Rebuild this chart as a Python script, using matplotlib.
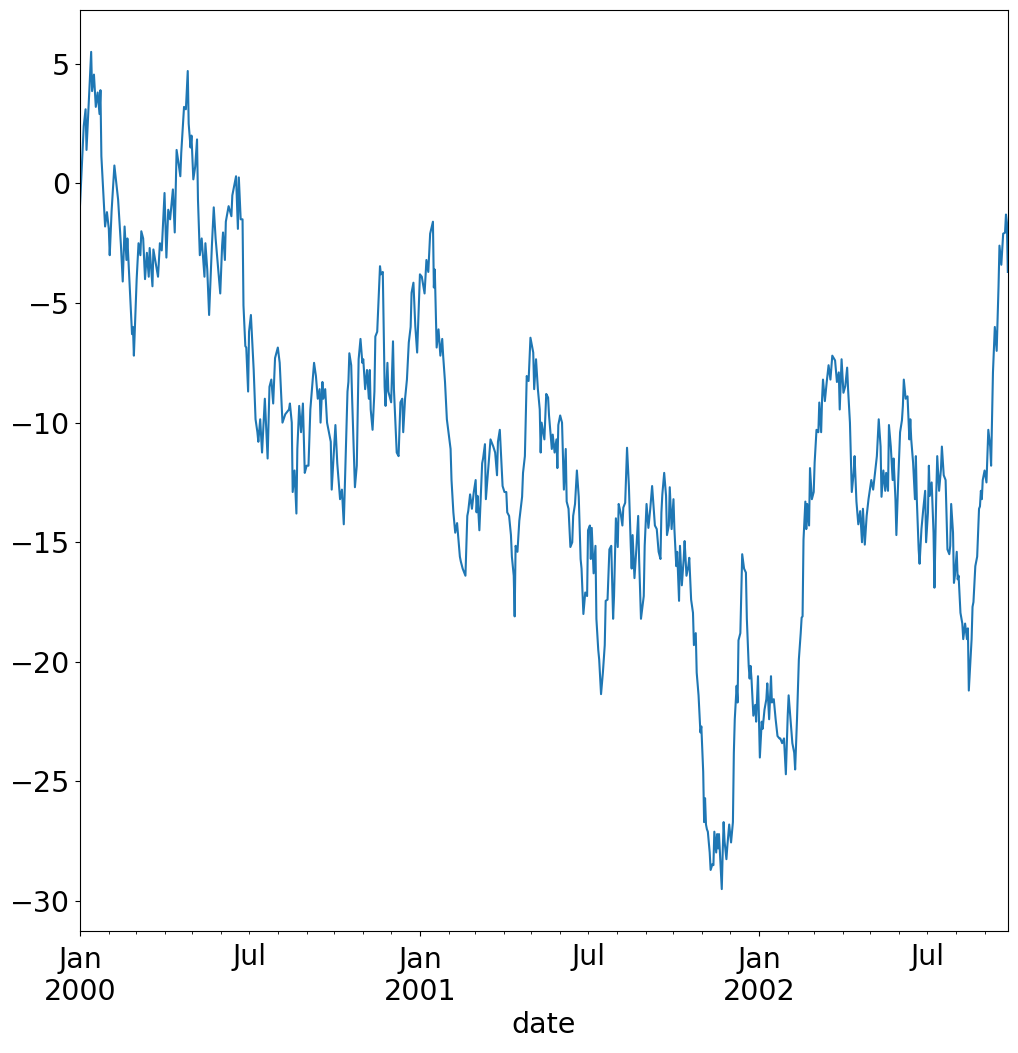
import matplotlib
matplotlib.use("Agg")
import matplotlib.pyplot as plt
import matplotlib.dates as mdates
from matplotlib.ticker import FuncFormatter
import pandas as pd

start_date = "2000-01-01"

# day offsets from start_date (rows align with rows of `values`)
days = [
    0, 4, 6, 7, 12, 13, 15, 17, 19, 21,
    22, 23, 27, 29, 31, 32, 34, 37, 41, 44,
    46, 48, 50, 51, 55, 56, 57, 58, 60, 61,
    63, 65, 66, 68, 70, 72, 74, 75, 78, 79,
    84, 86, 88, 91, 93, 95, 97, 100, 102, 104,
    106, 108, 109, 112, 114, 116, 117, 119, 120, 122,
    124, 126, 127, 129, 131, 134, 135, 137, 139, 142,
    144, 146, 149, 151, 153, 154, 156, 157, 160, 163,
    164, 168, 170, 171, 173, 175, 176, 178, 179, 181,
    182, 184, 187, 189, 191, 192, 194, 196, 199, 201,
    202, 204, 206, 208, 210, 213, 215, 218, 221, 225,
    226, 228, 229, 231, 233, 234, 236, 238, 240, 242,
    244, 246, 248, 252, 254, 256, 258, 259, 261, 262,
    264, 266, 270, 271, 275, 277, 280, 282, 284, 286,
    288, 289, 290, 292, 293, 296, 298, 300, 302, 304,
    305, 307, 309, 311, 312, 313, 315, 317, 318, 320,
    323, 324, 326, 328, 329, 331, 332, 335, 337, 338,
    341, 343, 345, 347, 348, 350, 352, 354, 356, 357,
    359, 361, 363, 366, 368, 371, 373, 375, 377, 380,
    381, 382, 384, 386, 388, 390, 391, 393, 395, 399,
    400, 402, 404, 406, 408, 409, 410, 412, 415, 417,
    418, 420, 422, 424, 426, 427, 428, 430, 433, 434,
    436, 437, 440, 442, 445, 447, 449, 450, 452, 453,
    455, 457, 459, 460, 462, 464, 465, 467, 468, 469,
    471, 473, 476, 477, 479, 481, 483, 485, 488, 489,
    491, 493, 495, 496, 497, 500, 502, 504, 505, 508,
    509, 511, 513, 514, 515, 517, 519, 521, 523, 524,
    526, 528, 530, 531, 533, 535, 537, 539, 540, 542,
    544, 546, 547, 549, 550, 551, 553, 555, 556, 558,
    559, 561, 563, 565, 566, 568, 570, 572, 574, 575,
    577, 579, 580, 582, 584, 585, 587, 589, 591, 593,
    594, 595, 597, 599, 601, 602, 604, 607, 608, 610,
    612, 614, 616, 617, 619, 621, 623, 625, 626, 627,
    629, 631, 632, 634, 635, 637, 639, 640, 642, 643,
    645, 646, 648, 650, 651, 653, 655, 656, 658, 660,
    661, 663, 664, 666, 668, 669, 671, 672, 673, 674,
    675, 676, 678, 679, 681, 682, 683, 685, 686, 687,
    688, 691, 692, 693, 694, 696, 697, 699, 701, 703,
    704, 705, 707, 708, 709, 711, 713, 715, 717, 718,
    720, 721, 722, 723, 725, 727, 728, 730, 732, 734,
    735, 737, 739, 740, 742, 744, 745, 747, 749, 751,
    753, 754, 756, 758, 760, 762, 763, 765, 767, 769,
    770, 772, 774, 776, 777, 778, 779, 781, 782, 783,
    785, 786, 788, 790, 791, 793, 795, 796, 798, 799,
    800, 802, 804, 806, 808, 810, 813, 815, 817, 818,
    820, 822, 824, 826, 827, 829, 831, 833, 834, 836,
    838, 840, 842, 843, 845, 847, 849, 851, 852, 854,
    856, 858, 860, 862, 863, 865, 867, 868, 870, 871,
    873, 875, 876, 878, 879, 881, 883, 885, 886, 887,
    889, 891, 893, 894, 895, 897, 899, 900, 901, 903,
    904, 906, 908, 910, 911, 913, 914, 915, 917, 919,
    920, 922, 923, 925, 927, 928, 930, 932, 934, 936,
    937, 938, 940, 941, 942, 944, 945, 946, 948, 950,
    951, 953, 955, 956, 957, 959, 960, 961, 962, 964,
    966, 968, 969, 970, 971, 972, 974, 976, 978, 980,
    981, 983, 985, 987, 989, 990, 992, 994, 996, 997,
    998, 999,
]

values = [
    -0.9, 2.4, 3.1, 1.4, 5.5, 3.86, 4.55, 3.2, 3.8, 2.9,
    3.9, 1.14, -1.8, -1.2, -1.9, -3.0, -1.16, 0.75, -0.67, -2.55,
    -4.1, -1.8, -3.2, -2.3, -5.5, -6.3, -6.0, -7.2, -5.0, -4.0,
    -2.5, -3.0, -2.0, -2.3, -4.0, -2.9, -3.9, -2.7, -4.3, -2.76,
    -3.9, -2.5, -2.8, -0.4, -3.1, -1.1, -1.5, -0.25, -2.05, 1.4,
    0.87, 0.3, 1.28, 3.2, 3.1, 4.7, 2.5, 1.5, 2.0, 0.17,
    0.7, 1.84, -0.67, -3.0, -2.3, -3.9, -2.5, -3.6, -5.5, -2.6,
    -1.0, -2.3, -3.7, -4.6, -2.6, -2.05, -3.2, -1.6, -0.95, -1.37,
    -0.5, 0.3, -1.9, 0.25, -1.5, -1.5, -5.1, -6.8, -6.86, -8.7,
    -6.2, -5.5, -7.8, -9.86, -10.4, -10.8, -9.86, -11.25, -9.0, -10.7,
    -11.5, -8.5, -8.2, -9.2, -7.3, -6.86, -7.5, -10.0, -9.65, -9.45,
    -9.2, -10.0, -12.9, -12.0, -13.8, -11.1, -9.3, -10.4, -9.2, -12.1,
    -11.8, -11.8, -9.45, -7.5, -8.05, -9.0, -8.6, -10.0, -8.3, -9.0,
    -8.6, -10.0, -10.8, -12.8, -10.1, -11.7, -13.2, -12.8, -14.25, -11.5,
    -8.7, -8.3, -7.1, -7.6, -9.0, -12.7, -11.8, -7.35, -6.5, -7.5,
    -7.35, -8.6, -7.8, -9.0, -7.8, -9.45, -10.3, -8.7, -6.4, -6.2,
    -3.46, -3.8, -3.7, -8.5, -9.3, -7.5, -8.7, -9.15, -6.6, -8.6,
    -11.25, -11.4, -9.15, -9.0, -10.4, -9.0, -8.2, -6.65, -6.0, -4.57,
    -4.15, -5.96, -7.07, -3.8, -3.9, -4.6, -3.2, -3.7, -2.1, -1.6,
    -4.35, -3.6, -6.86, -6.1, -7.2, -6.5, -7.2, -8.3, -9.86, -11.1,
    -12.4, -13.75, -14.6, -14.2, -15.15, -15.6, -15.8, -16.1, -16.4, -13.9,
    -13.7, -13.0, -13.6, -12.9, -12.4, -13.75, -13.06, -14.5, -11.7, -11.5,
    -10.9, -13.2, -11.7, -10.7, -11.0, -11.25, -12.2, -10.8, -10.3, -11.1,
    -12.65, -12.9, -12.9, -13.75, -13.9, -14.7, -15.6, -16.4, -18.1, -15.15,
    -15.4, -14.1, -13.1, -12.1, -11.4, -8.05, -8.26, -6.45, -7.07, -8.6,
    -7.35, -8.6, -9.45, -11.25, -10.0, -10.7, -8.8, -8.95, -9.7, -11.1,
    -10.5, -11.25, -10.7, -11.9, -10.1, -9.7, -10.0, -12.8, -11.1, -13.3,
    -13.6, -15.2, -15.0, -13.9, -13.4, -12.0, -13.1, -15.7, -16.1, -18.0,
    -17.1, -17.25, -14.5, -14.3, -15.7, -14.4, -16.3, -15.15, -18.2, -19.5,
    -19.9, -21.35, -20.45, -19.3, -17.45, -17.4, -15.3, -15.15, -18.2, -17.25,
    -14.0, -15.2, -13.4, -13.76, -14.3, -13.55, -13.35, -11.05, -12.65, -15.15,
    -16.1, -14.7, -16.5, -15.3, -13.9, -15.7, -18.2, -17.25, -15.15, -13.4,
    -14.4, -13.6, -12.65, -13.2, -14.3, -14.45, -15.4, -15.7, -13.76, -13.0,
    -12.1, -13.06, -14.7, -14.3, -12.7, -14.45, -13.2, -14.45, -16.0, -15.4,
    -17.45, -15.15, -16.8, -15.7, -14.95, -16.4, -16.0, -15.65, -17.4, -17.95,
    -19.3, -18.8, -20.45, -21.4, -22.95, -22.7, -24.6, -26.7, -25.7, -26.8,
    -27.0, -27.1, -27.97, -28.7, -28.45, -28.5, -27.1, -27.97, -27.2, -27.8,
    -27.2, -29.5, -27.97, -26.7, -27.5, -28.25, -27.7, -26.8, -27.55, -26.7,
    -23.8, -22.4, -21.0, -21.7, -19.1, -18.8, -15.5, -16.1, -16.27, -18.2,
    -20.17, -20.7, -20.17, -20.7, -22.25, -21.8, -22.5, -20.6, -24.0, -22.5,
    -22.8, -22.0, -21.56, -20.9, -22.4, -20.6, -21.7, -21.56, -22.4, -23.1,
    -23.2, -23.2, -23.4, -23.2, -24.7, -22.25, -21.4, -22.4, -23.4, -23.8,
    -24.5, -22.4, -19.9, -18.8, -18.15, -18.1, -14.9, -13.3, -14.45, -13.4,
    -14.3, -11.9, -13.2, -12.9, -11.67, -10.3, -10.4, -9.16, -10.4, -9.0,
    -8.2, -9.1, -8.3, -7.6, -8.2, -7.2, -7.4, -8.3, -7.9, -9.45,
    -7.35, -8.75, -8.47, -7.7, -8.6, -10.0, -12.9, -12.1, -11.4, -13.3,
    -14.25, -13.7, -15.0, -13.6, -15.1, -13.9, -13.2, -12.65, -12.4, -12.8,
    -12.1, -11.4, -9.86, -11.0, -13.1, -12.0, -12.85, -12.1, -12.85, -10.1,
    -11.0, -12.4, -11.5, -13.2, -14.7, -12.4, -10.4, -9.9, -9.3, -8.2,
    -9.0, -8.9, -10.7, -9.86, -10.7, -11.67, -13.2, -11.4, -13.2, -15.3,
    -15.9, -14.45, -13.6, -12.85, -15.0, -13.76, -11.8, -13.06, -12.5, -14.6,
    -16.9, -12.9, -11.4, -12.85, -11.95, -11.0, -12.2, -12.4, -15.3, -15.5,
    -15.15, -13.4, -14.6, -16.7, -16.4, -15.4, -16.55, -16.4, -17.95, -18.4,
    -19.05, -18.4, -19.05, -18.6, -21.2, -19.75, -19.05, -17.7, -17.5, -16.0,
    -15.6, -13.6, -13.5, -12.85, -13.2, -12.4, -12.0, -12.5, -10.3, -11.0,
    -11.8, -7.9, -6.0, -7.0, -4.3, -2.6, -3.4, -2.1, -2.06, -1.3,
    -1.64, -3.7,
]

assert len(days) == len(values)

x_label = "date"

dates = pd.Timestamp(start_date) + pd.to_timedelta(days, unit="D")

fig = plt.figure(figsize=(10.18, 10.53), dpi=100)
ax = fig.add_axes([0.0786, 0.1159, 0.9114, 0.8746])
ax.plot(dates, values, color="#1f77b4", linewidth=1.5)
ax.set_xlim(dates[0], dates[-1])

ax.xaxis.set_major_locator(mdates.MonthLocator(bymonth=1))
ax.xaxis.set_minor_locator(mdates.MonthLocator())


def major_fmt(x, pos=None):
    d = mdates.num2date(x)
    return d.strftime("%b") + "\n" + d.strftime("%Y")


def minor_fmt(x, pos=None):
    d = mdates.num2date(x)
    return "Jul" if d.month == 7 else ""


ax.xaxis.set_major_formatter(FuncFormatter(major_fmt))
ax.xaxis.set_minor_formatter(FuncFormatter(minor_fmt))
ax.tick_params(axis="both", which="both", labelsize=20.5)
ax.tick_params(axis="x", which="major", pad=7.0)
ax.tick_params(axis="x", which="minor", pad=6.5)
ax.set_xlabel(x_label, fontsize=20.5)

fig.savefig("out.png", dpi=100)
